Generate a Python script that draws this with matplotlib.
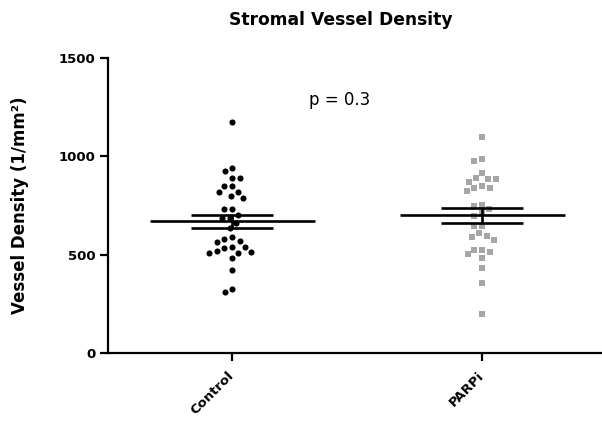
import numpy as np
import matplotlib
matplotlib.use("Agg")
import matplotlib.pyplot as plt

plt.rcParams['font.family'] = ['DejaVu Sans']

groups = ["Control", "PARPi"]
control = [1173, 939, 925, 891, 891, 849, 849, 820, 817, 800, 790, 732, 732, 702,
           685, 685, 659, 637, 588, 578, 571, 564, 540, 539, 535, 520, 515, 510,
           510, 481, 422, 324, 309]
parpi = [1100, 985, 976, 914, 888, 885, 885, 871, 849, 841, 841, 824, 753, 749,
         731, 713, 698, 646, 646, 609, 595, 588, 575, 524, 524, 512, 502, 481,
         434, 354, 198]
title = "Stromal Vessel Density"
ylabel = "Vessel Density (1/mm²)"
p_text = "p = 0.3"
yticks = [0, 500, 1000, 1500]

W, H = 602, 429
fig = plt.figure(figsize=(W / 100, H / 100), dpi=100)
ax = fig.add_axes([108 / W, (H - 353) / H, 1 - 108 / W, 295 / H])
ax.set_xlim(-0.496, 1.48)
ax.set_ylim(0, 1500)


def swarm(values, center, diam_px):
    """Simple beeswarm in pixel space."""
    vals = np.asarray(values, float)
    pix = ax.transData.transform(np.column_stack([np.full(len(vals), center), vals]))
    cx = pix[0, 0]
    ys = pix[:, 1]
    order = np.argsort(-vals)
    placed = []
    xs = np.zeros(len(vals))
    for i in order:
        y = ys[i]
        best = None
        for k in range(0, 400):
            for s in ([0] if k == 0 else [-1, 1]):
                off = s * k * 0.5
                ok = True
                for (px, py) in placed:
                    if (px - off) ** 2 + (py - y) ** 2 < diam_px ** 2:
                        ok = False
                        break
                if ok:
                    best = off
                    break
            if best is not None:
                break
        placed.append((best, y))
        xs[i] = cx + best
    data = ax.transData.inverted().transform(np.column_stack([xs, ys]))
    return data[:, 0], vals


styles = [dict(marker='o', color='black', ms=4.4),
          dict(marker='s', color='#a6a6a6', ms=4.0)]
for i, (vals, st) in enumerate(zip([control, parpi], styles)):
    x, y = swarm(vals, i, 7.8)
    ax.plot(x, y, linestyle='none', marker=st['marker'], color=st['color'],
            markersize=st['ms'], markeredgewidth=0, zorder=2)
    m = np.mean(vals)
    sem = np.std(vals, ddof=1) / np.sqrt(len(vals))
    ax.hlines(m, i - 0.33, i + 0.33, color='black', lw=1.9, zorder=3)
    ax.errorbar([i], [m], yerr=[sem], fmt='none', ecolor='black', elinewidth=1.9,
                capsize=29.5, capthick=1.9, zorder=3)

ax.spines['top'].set_visible(False)
ax.spines['right'].set_visible(False)
ax.spines['left'].set_linewidth(1.6)
ax.spines['bottom'].set_linewidth(1.6)
ax.spines['bottom'].set_position(('data', 0))

ax.set_yticks(yticks)
ax.set_yticklabels([str(t) for t in yticks], fontsize=9.5, fontweight='bold')
ax.set_xticks([0, 1])
ax.set_xticklabels(groups, fontsize=9.5, fontweight='bold', rotation=45,
                   ha='right', va='center', rotation_mode='anchor')
ax.tick_params(axis='both', width=1.6, length=6, direction='out')
ax.tick_params(axis='y', pad=3)
ax.tick_params(axis='x', pad=9)

ax.set_ylabel(ylabel, fontsize=12, fontweight='bold')
ax.yaxis.set_label_coords(-(108 - 29) / (W - 108), 0.5)
fig.text(341 / W, 1 - 20 / H, title, fontsize=12.3, fontweight='bold',
         ha='center', va='center')
ax.text(0.432, 1286, p_text, fontsize=12, ha='center', va='center')

fig.savefig("out.png", dpi=100)
